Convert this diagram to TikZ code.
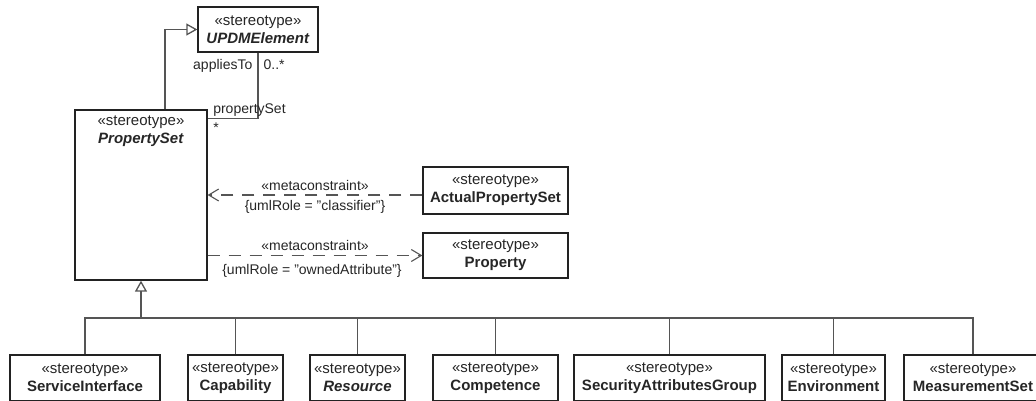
\documentclass[tikz,border=0pt]{standalone}
\usepackage{fontspec}
\setmainfont{Liberation Sans}
\usepackage{tikz}
\usetikzlibrary{arrows.meta,positioning}
\definecolor{UmlLine}{HTML}{555555}
\definecolor{UmlBorder}{HTML}{222222}
\definecolor{UmlText}{HTML}{262626}
\newcommand{\stname}[1]{«stereotype»\\#1}
\tikzset{
  stereo/.style={rectangle, draw=UmlBorder, line width=1.3pt, fill=white,
    align=center, inner sep=2pt, text=UmlText,
    font=\fontsize{15}{18}\selectfont},
  leaf/.style={stereo, minimum height=46pt},
  plain/.style={draw=UmlLine, line width=1.3pt},
  genhead/.style={plain, -{Triangle[open, length=11pt, width=12pt]}},
  dep/.style={draw=UmlLine, line width=1.1pt, dash pattern=on 12pt off 9pt,
    -{Straight Barb[length=10pt, width=12pt]}},
  lbl/.style={font=\fontsize{14}{16}\selectfont, text=UmlText, inner sep=1pt}
}

\begin{document}
\begin{tikzpicture}[x=1pt, y=-1pt]

\useasboundingbox (0,0) rectangle (1036,400);
\clip (0,0) rectangle (1036,400);

\node[stereo, minimum width=120pt, minimum height=45pt] (upd) at (258,29.5)
  {\stname{\textbf{\textit{UPDMElement}}}};

\node[stereo, minimum width=132pt, minimum height=170pt,
  label={[stereo, draw=none, fill=none, anchor=north, inner sep=6pt]north:{\stname{\textbf{\textit{PropertySet}}}}}
] (ps) at (141,195) {};

\node[stereo, minimum width=145pt, minimum height=47pt] (aps) at (495.5,190.5)
  {\stname{\textbf{ActualPropertySet}}};
\node[stereo, minimum width=145pt, minimum height=45pt] (prop) at (495.5,255.5)
  {\stname{\textbf{Property}}};

\node[leaf, minimum width=150pt] (si)   at (85,378)    {\stname{\textbf{ServiceInterface}}};
\node[leaf, minimum width=95pt]  (cap)  at (235.5,378) {\stname{\textbf{Capability}}};
\node[leaf, minimum width=95pt]  (res)  at (357.5,378) {\stname{\textbf{\textit{Resource}}}};
\node[leaf, minimum width=125pt] (comp) at (495.5,378) {\stname{\textbf{Competence}}};
\node[leaf, minimum width=191pt] (sag)  at (669.5,378) {\stname{\textbf{SecurityAttributesGroup}}};
\node[leaf, minimum width=103pt] (env)  at (833.5,378) {\stname{\textbf{Environment}}};
\node[leaf, minimum width=138pt] (ms)   at (973,378)   {\stname{\textbf{MeasurementSet}}};

\coordinate (bus) at (141,318);

\draw[genhead] ([xshift=24pt]ps.north) |- (upd.west);
\draw[plain] (upd.south) |- ([yshift=-9pt]ps.north east)
  node[lbl, pos=0, anchor=north east, xshift=-4pt, yshift=-5pt] {appliesTo}
  node[lbl, pos=0, anchor=north west, xshift=4pt, yshift=-5pt] {0..*}
  node[lbl, pos=1, anchor=base west, xshift=4pt, yshift=5pt] {propertySet}
  node[lbl, pos=1, anchor=north west, xshift=4pt, yshift=-3pt] {*};

\draw[dep] ([yshift=-4.5pt]aps.west) -- ([yshift=-4.5pt]aps.west -| ps.east)
  node[lbl, midway, above=3pt] {«metaconstraint»}
  node[lbl, midway, below=4pt] {\{umlRole = "classifier"\}};
\draw[dep] (prop.west -| ps.east) -- (prop.west)
  node[lbl, midway, above=3pt] {«metaconstraint»}
  node[lbl, midway, below=7pt, xshift=-3pt] {\{umlRole = "ownedAttribute"\}};

\draw[genhead] (bus) -- (ps.south);
\foreach \n in {si,cap,res,comp,sag,env,ms}
  \draw[plain] (\n.north) |- (bus);

\end{tikzpicture}
\end{document}
